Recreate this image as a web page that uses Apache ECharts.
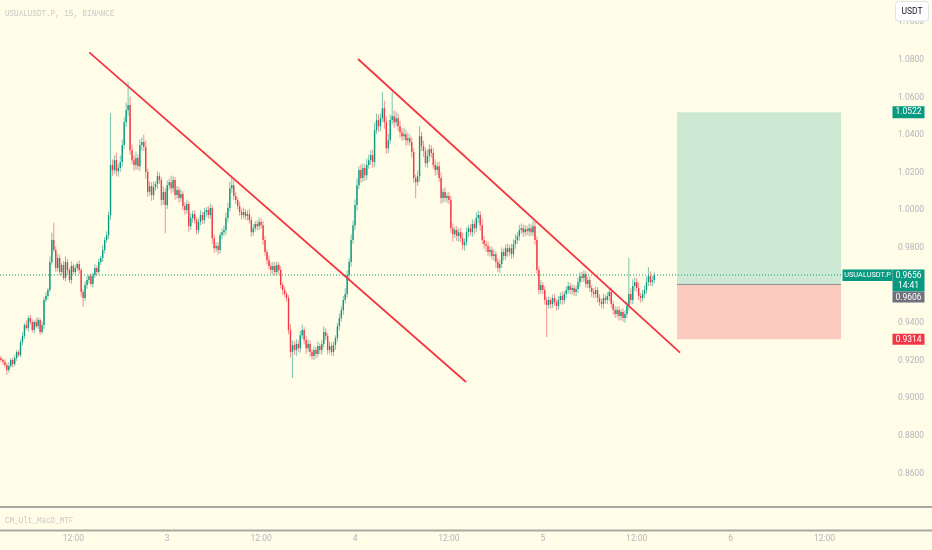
<!DOCTYPE html>
<html>
<head>
<meta charset="utf-8">
<script src="https://cdn.jsdelivr.net/npm/echarts@6/dist/echarts.min.js"></script>
<style>
  html, body { margin: 0; padding: 0; background: #fffde8; }
  #chart { width: 932px; height: 550px; }
</style>
</head>
<body>
<div id="chart"></div>
<script>
// 15-minute slots shown on the time axis, starting day 2 02:45
const SLOT_COUNT = 455;
const START_MIN = 2 * 1440 + 165;

const title = "USUALUSDT.P, 15, BINANCE";
const paneName = "CM_Ult_MacD_MTF";
const symbol = "USUALUSDT.P";
const quote = "USDT";
const countdown = "14:41";

// candle closes (open = previous close)
const firstOpen = 0.9215;
const closes = [
  0.9204,0.9193,0.9177,0.9150,0.9172,0.9204,0.9183,0.9214,0.9246,0.9230,
  0.9299,0.9331,0.9390,0.9374,0.9427,0.9406,0.9363,0.9406,0.9384,0.9416,
  0.9353,0.9390,0.9523,0.9544,0.9576,0.9725,0.9842,0.9789,0.9693,0.9746,
  0.9672,0.9709,0.9640,0.9725,0.9682,0.9629,0.9704,0.9672,0.9693,0.9714,
  0.9682,0.9565,0.9534,0.9603,0.9629,0.9650,0.9608,0.9656,0.9693,0.9672,
  0.9725,0.9746,0.9789,0.9842,0.9868,0.9975,1.0241,1.0214,1.0267,1.0209,
  1.0225,1.0257,1.0347,1.0469,1.0533,1.0560,1.0320,1.0267,1.0241,1.0278,
  1.0235,1.0347,1.0363,1.0337,1.0204,1.0098,1.0129,1.0081,1.0124,1.0140,
  1.0182,1.0161,1.0055,1.0098,1.0028,1.0134,1.0150,1.0118,1.0161,1.0081,
  1.0108,1.0065,1.0087,1.0023,1.0002,1.0034,0.9916,0.9959,0.9980,0.9948,
  0.9895,0.9938,0.9975,0.9948,0.9991,1.0002,0.9975,1.0012,0.9852,0.9799,
  0.9810,0.9789,0.9868,0.9884,0.9895,0.9959,1.0012,1.0118,1.0134,1.0076,
  1.0055,1.0023,0.9991,0.9975,0.9991,0.9969,0.9980,0.9948,0.9884,0.9905,
  0.9927,0.9916,0.9938,0.9921,0.9842,0.9778,0.9735,0.9704,0.9682,0.9704,
  0.9672,0.9709,0.9682,0.9603,0.9576,0.9555,0.9534,0.9363,0.9246,0.9283,
  0.9257,0.9289,0.9267,0.9336,0.9363,0.9310,0.9267,0.9289,0.9246,0.9225,
  0.9257,0.9236,0.9278,0.9257,0.9289,0.9353,0.9331,0.9257,0.9278,0.9246,
  0.9283,0.9320,0.9384,0.9427,0.9469,0.9523,0.9555,0.9656,0.9725,0.9842,
  0.9921,1.0028,1.0134,1.0214,1.0172,1.0225,1.0187,1.0241,1.0267,1.0294,
  1.0257,1.0426,1.0480,1.0447,1.0490,1.0543,1.0469,1.0330,1.0373,1.0480,
  1.0501,1.0469,1.0490,1.0447,1.0416,1.0394,1.0405,1.0373,1.0384,1.0363,
  1.0310,1.0172,1.0150,1.0182,1.0394,1.0341,1.0315,1.0251,1.0289,1.0326,
  1.0305,1.0241,1.0214,1.0235,1.0172,1.0065,1.0097,1.0065,1.0076,1.0055,
  0.9905,0.9873,0.9895,0.9863,0.9884,0.9852,0.9815,0.9831,0.9884,0.9905,
  0.9884,0.9927,0.9905,0.9959,0.9975,0.9921,0.9842,0.9820,0.9810,0.9778,
  0.9789,0.9757,0.9767,0.9725,0.9693,0.9714,0.9778,0.9757,0.9799,0.9778,
  0.9799,0.9767,0.9820,0.9842,0.9863,0.9895,0.9905,0.9884,0.9900,0.9889,
  0.9905,0.9884,0.9916,0.9842,0.9682,0.9576,0.9603,0.9576,0.9523,0.9497,
  0.9523,0.9502,0.9534,0.9512,0.9491,0.9523,0.9544,0.9523,0.9555,0.9576,
  0.9597,0.9576,0.9587,0.9565,0.9581,0.9618,0.9650,0.9640,0.9661,0.9608,
  0.9629,0.9587,0.9565,0.9555,0.9576,0.9534,0.9512,0.9502,0.9534,0.9523,
  0.9544,0.9565,0.9502,0.9470,0.9449,0.9470,0.9438,0.9459,0.9427,0.9449,
  0.9491,0.9555,0.9523,0.9597,0.9618,0.9587,0.9544,0.9534,0.9555,0.9576,
  0.9618,0.9650,0.9618,0.9629,0.9656
];
// wick lengths above body top / below body bottom, in 0.0001
const wickHi = [
  12,8,15,10,20,9,14,18,10,12, 15,20,10,25,12,18,14,10,22,15,
  10,18,14,20,12,30,39,92,20,25, 18,12,22,30,15,10,25,14,18,12,
  20,10,14,18,22,10,15,12,20,14, 18,12,25,15,20,18,276,30,25,40,
  20,35,30,25,40,123,45,30,25,35, 20,30,25,40,35,18,25,20,30,15,
  25,20,15,30,20,25,18,35,20,15, 20,18,25,15,20,22,15,25,18,20,
  15,20,25,18,22,15,20,25,15,20, 18,22,15,20,25,30,28,35,43,25,
  20,15,22,18,25,15,20,28,18,22, 15,20,25,18,22,20,15,25,18,20,
  22,18,15,20,14,18,12,15,30,25, 20,25,18,22,30,15,20,25,18,15,
  20,18,25,15,22,30,20,15,25,18, 20,15,18,25,20,22,30,25,20,30,
  25,30,35,20,30,25,20,35,30,25, 30,40,35,30,25,85,40,30,35,30,
  127,30,35,25,30,20,35,25,30,20, 25,20,18,30,53,25,30,20,35,25,
  20,25,30,20,25,30,20,25,18,22, 20,25,18,22,20,25,30,20,25,18,
  22,25,18,30,25,20,35,20,18,25, 20,18,25,15,20,22,25,18,20,25,
  18,22,25,30,20,28,25,20,22,18, 25,20,30,22,18,20,25,15,20,18,
  20,15,18,22,15,20,18,25,15,20, 22,18,20,15,18,25,20,22,21,15,
  18,20,15,22,18,15,20,18,22,15, 20,18,25,15,20,18,22,15,20,18,
  25,192,30,35,25,20,30,18,22,25, 30,48,25,20,15
];
const wickLo = [
  10,15,12,26,14,10,18,12,15,10, 12,18,15,10,20,14,12,18,10,15,
  15,10,20,12,18,10,15,12,20,18, 15,20,12,18,25,15,20,12,18,15,
  20,25,48,15,20,18,12,20,15,18, 12,15,20,18,15,20,25,30,20,25,
  30,20,25,20,25,30,25,20,30,25, 20,25,30,20,35,25,20,30,25,20,
  25,20,30,25,150,20,25,30,20,25, 20,25,18,22,25,20,30,20,25,18,
  25,20,18,22,20,25,18,20,30,25, 20,25,18,22,20,25,20,18,25,20,
  22,18,20,25,18,20,22,18,25,20, 18,22,20,18,25,20,22,18,20,25,
  20,18,22,20,25,18,20,22,30,138, 25,30,20,25,18,22,30,20,25,18,
  22,25,18,20,25,20,22,25,18,20, 20,25,18,22,20,25,18,20,22,25,
  20,25,30,20,25,20,30,25,20,25, 30,25,20,30,25,20,35,30,25,20,
  25,30,20,25,30,25,20,30,25,20, 30,25,85,20,30,25,30,20,25,30,
  25,20,30,25,20,30,25,20,25,20, 25,40,20,25,30,20,25,30,20,25,
  20,25,30,20,25,30,20,25,30,20, 25,20,25,30,20,25,20,25,20,25,
  20,25,20,25,20,25,20,25,20,22, 25,20,22,25,20,25,20,22,25,171,
  20,25,22,20,25,20,22,25,20,22, 20,22,25,20,22,20,25,20,22,20,
  22,20,25,22,20,25,20,22,25,20, 22,25,20,25,22,20,25,22,20,25,
  22,25,20,22,25,20,22,25,20,22, 20,22,20,22,18
];

// drawings: [slot, price]
const trendA = [[45.15, 1.0840], [237.74, 0.9087]];
const trendB = [[182.53, 1.0805], [347.15, 0.9243]];
const boxSlots = [345.6, 429.5];
const takeProfit = 1.0522;
const entry = 0.9606;
const stopLoss = 0.9314;
const lastPrice = 0.9656;

// visible price range of the main pane (top edge / tick base)
const priceTop = 1.1119;
const priceBase = 0.84;

const UP = "#089981", DOWN = "#f23645", BG = "#fffde8", AXIS_TXT = "#b2b5be";

const slots = [];
for (let k = 0; k < SLOT_COUNT; k++) {
  const m = START_MIN + 15 * k;
  slots.push({ d: Math.floor(m / 1440), h: Math.floor((m % 1440) / 60), mm: m % 60 });
}
const cats = slots.map((s) => `${s.d} ${String(s.h).padStart(2, "0")}:${String(s.mm).padStart(2, "0")}`);
const isTick = (i) => slots[i].mm === 0 && (slots[i].h === 0 || slots[i].h === 12);

// [slot, open, close, low, high]
const ohlc = closes.map((c, i) => {
  const o = i ? closes[i - 1] : firstOpen;
  const top = Math.max(o, c), bot = Math.min(o, c);
  return [i, o, c, +(bot - wickLo[i] / 1e4).toFixed(4), +(top + wickHi[i] / 1e4).toFixed(4)];
});

// thin TradingView-style candles
function renderCandle(params, api) {
  const i = api.value(0), o = api.value(1), c = api.value(2), lo = api.value(3), hi = api.value(4);
  const col = c >= o ? UP : DOWN;
  const x = api.coord([i, o])[0];
  const yo = api.coord([i, o])[1], yc = api.coord([i, c])[1];
  const yl = api.coord([i, lo])[1], yh = api.coord([i, hi])[1];
  const bw = api.size([1, 0])[0] * 0.7;
  const top = Math.min(yo, yc), h = Math.max(1, Math.abs(yo - yc));
  return {
    type: "group",
    children: [
      { type: "line", shape: { x1: x, y1: yh, x2: x, y2: yl }, style: { stroke: col, lineWidth: 1, opacity: 0.55 } },
      { type: "rect", shape: { x: x - bw / 2, y: top, width: bw, height: h }, style: { fill: col } },
    ],
  };
}

const chart = echarts.init(document.getElementById("chart"));
chart.setOption({
  animation: false,
  backgroundColor: BG,
  grid: { left: 0, right: 42, top: 0, bottom: 38.9 },
  xAxis: [
    {
      type: "category", data: cats, boundaryGap: true,
      axisLine: { show: false }, axisTick: { show: false }, splitLine: { show: false },
      axisLabel: {
        interval: (i) => isTick(i), margin: 23, color: AXIS_TXT, fontSize: 8.5, fontFamily: "Roboto",
        formatter: (v, i) => (slots[i].h === 0 ? String(slots[i].d) : "12:00"),
      },
    },
    { type: "value", min: -0.5, max: SLOT_COUNT - 0.5, show: false },
  ],
  yAxis: {
    type: "value", position: "right", min: priceBase, max: priceTop, interval: 0.02,
    axisLine: { show: false }, axisTick: { show: false }, splitLine: { show: false },
    axisLabel: {
      margin: 8, color: AXIS_TXT, fontSize: 8.5, fontFamily: "Roboto", showMaxLabel: false,
      formatter: (v) => (v < 0.85 || v > 1.105 ? "" : v.toFixed(4)),
    },
  },
  series: [
    {
      // long position box + entry line
      type: "line", xAxisIndex: 1, z: 1, symbol: "none",
      data: [[boxSlots[0], entry], [boxSlots[1], entry]],
      lineStyle: { color: "#8a8d96", width: 1 },
      markArea: {
        silent: true,
        data: [
          [{ coord: [boxSlots[0], takeProfit], itemStyle: { color: "rgba(8,153,129,0.2)" } }, { coord: [boxSlots[1], entry] }],
          [{ coord: [boxSlots[0], entry], itemStyle: { color: "rgba(242,54,69,0.25)" } }, { coord: [boxSlots[1], stopLoss] }],
        ],
      },
    },
    {
      // last price, dotted across the pane
      type: "line", xAxisIndex: 1, z: 2, symbol: "none",
      data: [[-0.5, lastPrice], [SLOT_COUNT - 0.5, lastPrice]],
      lineStyle: { color: UP, width: 1, type: [1, 2] },
    },
    {
      type: "custom", z: 3, data: ohlc, renderItem: renderCandle,
      encode: { x: 0, y: [1, 2, 3, 4] },
    },
    { type: "line", xAxisIndex: 1, z: 4, symbol: "none", data: trendA, lineStyle: { color: DOWN, width: 1.8 } },
    { type: "line", xAxisIndex: 1, z: 4, symbol: "none", data: trendB, lineStyle: { color: DOWN, width: 1.8 } },
  ],
});

// price tags and pane chrome, placed through the axis scale
const py = (v) => chart.convertToPixel({ yAxisIndex: 0 }, v);
const axisX = 932 - 42;
const tag = (y, h, fill, lines) => [
  { type: "rect", z: 50, shape: { x: axisX + 2.5, y, width: 32, height: h }, style: { fill } },
  ...lines.map((t, k) => ({
    type: "text", z: 51, x: axisX + 18.5, y: y + 6 + k * 10,
    style: { text: t, fill: "#fff", font: "8.5px Roboto", align: "center", verticalAlign: "middle" },
  })),
];
const yLast = py(lastPrice), yTp = py(takeProfit), ySl = py(stopLoss);
const lastTop = yLast - 5.5;
const monoText = (y, text) => ({
  type: "text", z: 42, x: 5, y, scaleX: 0.8,
  style: { text, fill: "#c8c8c8", font: "9.5px 'Liberation Mono'", verticalAlign: "middle" },
});
chart.setOption({
  graphic: [
    monoText(13, title),
    { type: "rect", z: 40, shape: { x: 0, y: 507, width: 932, height: 23 }, style: { fill: BG } },
    { type: "line", z: 41, shape: { x1: 0, y1: 507, x2: 932, y2: 507 }, style: { stroke: "#a9a9a2", lineWidth: 2 } },
    { type: "line", z: 41, shape: { x1: 0, y1: 530.5, x2: 932, y2: 530.5 }, style: { stroke: "#a9a9a2", lineWidth: 2 } },
    monoText(520, paneName),
    { type: "rect", z: 60, shape: { x: 895.5, y: 1.5, width: 33, height: 19.5, r: 3 }, style: { fill: "#fff", stroke: "#e0e3eb", lineWidth: 1 } },
    { type: "text", z: 61, x: 912, y: 11.5, style: { text: quote, fill: "#131722", font: "8.5px Roboto", align: "center", verticalAlign: "middle" } },
    ...tag(yTp - 6, 12, UP, [takeProfit.toFixed(4)]),
    { type: "rect", z: 50, shape: { x: 842.5, y: lastTop, width: 50, height: 11.5 }, style: { fill: UP } },
    { type: "text", z: 51, x: 867.5, y: lastTop + 6,
      style: { text: symbol, fill: "#fff", font: "7.4px Roboto", align: "center", verticalAlign: "middle" } },
    ...tag(lastTop, 22, UP, [lastPrice.toFixed(4), countdown]),
    ...tag(lastTop + 22, 11, "#6f727d", [entry.toFixed(4)]),
    ...tag(ySl - 5.5, 11, DOWN, [stopLoss.toFixed(4)]),
  ],
});
</script>
</body>
</html>
